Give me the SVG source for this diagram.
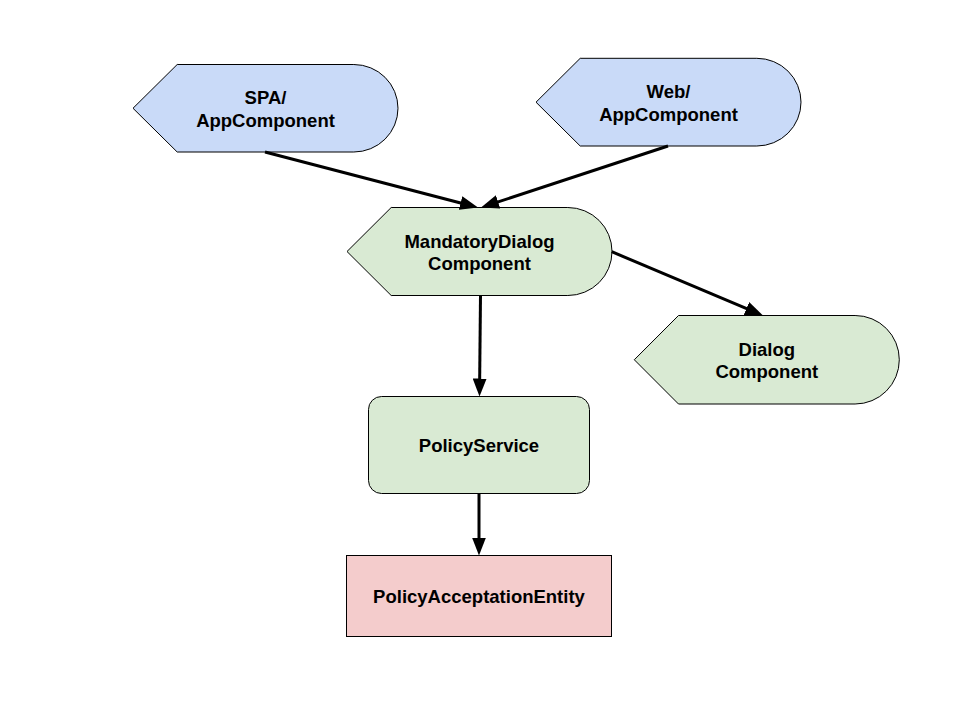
<svg xmlns="http://www.w3.org/2000/svg" width="960" height="720" viewBox="0 0 960 720">
  <style>
    .shape { stroke: #000000; stroke-width: 1; }
    .blue { fill: #c9daf8; }
    .green { fill: #d9ead3; }
    .red { fill: #f4cccc; }
    .label { font-family: "Liberation Sans", Arial, sans-serif; font-weight: bold; font-size: 18.5px; fill: #000000; text-anchor: middle; }
    .edge { stroke: #000000; stroke-width: 3; fill: none; marker-end: url(#arrow); }
  </style>
  <defs>
    <marker id="arrow" markerUnits="userSpaceOnUse" markerWidth="18" markerHeight="14" refX="8" refY="7" orient="auto">
      <path d="M0,0 L18,7 L0,14 Z" fill="#000000"/>
    </marker>
  </defs>
  <rect width="960" height="720" fill="#ffffff"/>

  <g id="spa-appcomponent">
    <path class="shape blue" d="M133,108.25 L177.2,64.5 L353.8,64.5 A44.2,43.75 0 0 1 353.8,152 L177.2,152 Z"/>
    <text class="label" x="265.5" y="104.25">SPA/</text>
    <text class="label" x="265.5" y="127">AppComponent</text>
  </g>

  <g id="web-appcomponent">
    <path class="shape blue" d="M536,102.2 L580.2,58.3 L756.8,58.3 A44.2,43.85 0 0 1 756.8,146 L580.2,146 Z"/>
    <text class="label" x="668.5" y="98.2">Web/</text>
    <text class="label" x="668.5" y="120.9">AppComponent</text>
  </g>

  <g id="mandatorydialog-component">
    <path class="shape green" d="M347,251.5 L391.2,207.5 L567.8,207.5 A44.2,44 0 0 1 567.8,295.5 L391.2,295.5 Z"/>
    <text class="label" x="479.5" y="247.5">MandatoryDialog</text>
    <text class="label" x="479.5" y="270.2">Component</text>
  </g>

  <g id="dialog-component">
    <path class="shape green" d="M634.3,359.75 L678.5,315.5 L855.1,315.5 A44.2,44.25 0 0 1 855.1,404 L678.5,404 Z"/>
    <text class="label" x="766.8" y="355.75">Dialog</text>
    <text class="label" x="766.8" y="378.45">Component</text>
  </g>

  <g id="policyservice">
    <rect class="shape green" x="368.5" y="396.5" width="221" height="97" rx="13" ry="13"/>
    <text class="label" x="479" y="451.6">PolicyService</text>
  </g>

  <g id="policyacceptationentity">
    <rect class="shape red" x="346.5" y="555.5" width="265" height="81"/>
    <text class="label" x="479" y="602.6">PolicyAcceptationEntity</text>
  </g>

  <g id="connectors">
    <line class="edge" x1="265" y1="152" x2="468.32" y2="204.98"/>
    <line class="edge" x1="668" y1="146" x2="490.5" y2="204.38"/>
    <line class="edge" x1="611.7" y1="251.7" x2="753.79" y2="311.61"/>
    <line class="edge" x1="480.5" y1="295.5" x2="479.6" y2="386.5"/>
    <line class="edge" x1="479" y1="493.5" x2="479" y2="545.5"/>
  </g>
</svg>
